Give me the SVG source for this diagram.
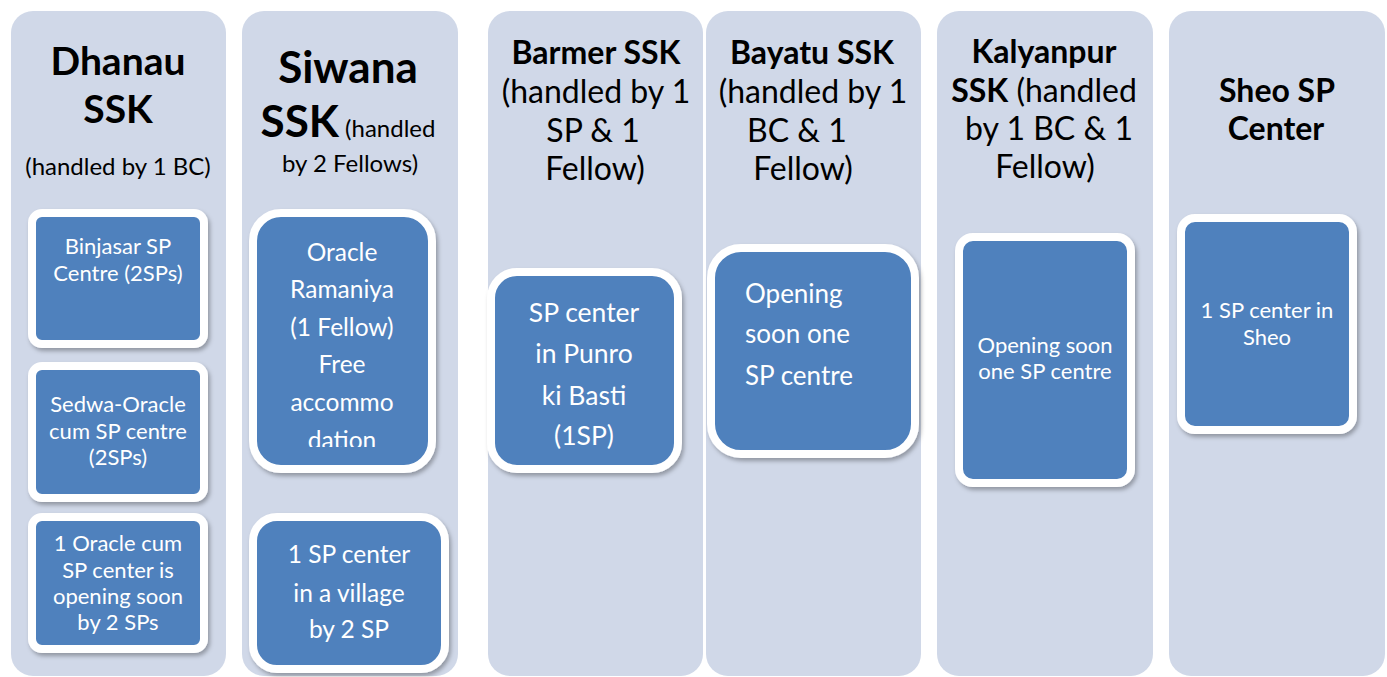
<svg xmlns="http://www.w3.org/2000/svg" width="1387" height="677" viewBox="0 0 1387 677">
<style>
.col{fill:#D0D8E8}
.box{fill:#4F81BD;stroke:#FFFFFF;stroke-width:8;filter:url(#sh)}
text{font-family:Lato,"Liberation Sans",sans-serif}
.h{fill:#000;text-anchor:middle}
.b{font-weight:bold}
.t{fill:#FFF;text-anchor:middle}
</style>
<defs>
<filter id="sh" x="-10%" y="-10%" width="125%" height="125%">
<feDropShadow dx="2" dy="3" stdDeviation="2" flood-color="#000" flood-opacity="0.3"/>
</filter>
<clipPath id="clipS1"><rect x="240" y="200" width="220" height="247"/></clipPath>
</defs>
<rect width="1387" height="677" fill="#FFF"/>

<g id="col-dhanau">
<rect class="col" x="11" y="11" width="215" height="665" rx="22"/>
<text class="h b" x="118" y="75" font-size="39">Dhanau</text>
<text class="h b" x="118" y="123" font-size="39">SSK</text>
<text class="h" x="118" y="175" font-size="24">(handled by 1 BC)</text>
</g>
<g id="box-binjasar">
<rect class="box" x="32" y="213" width="172" height="131" rx="10"/>
<text class="t" x="118" y="254" font-size="22">Binjasar SP</text>
<text class="t" x="118" y="281" font-size="22">Centre (2SPs)</text>
</g>
<g id="box-sedwa">
<rect class="box" x="32" y="366" width="172" height="132" rx="10"/>
<text class="t" x="118" y="412" font-size="22">Sedwa-Oracle</text>
<text class="t" x="118" y="439" font-size="22">cum SP centre</text>
<text class="t" x="118" y="465" font-size="22">(2SPs)</text>
</g>
<g id="box-oracle-soon">
<rect class="box" x="32" y="517" width="172" height="132" rx="10"/>
<text class="t" x="118" y="551" font-size="22">1 Oracle cum</text>
<text class="t" x="118" y="578" font-size="22">SP center is</text>
<text class="t" x="118" y="604" font-size="22">opening soon</text>
<text class="t" x="118" y="630" font-size="22">by 2 SPs</text>
</g>

<g id="col-siwana">
<rect class="col" x="242" y="11" width="216" height="665" rx="22"/>
<text class="h b" x="348" y="83" font-size="44">Siwana</text>
<text class="h" x="348" y="137"><tspan class="b" font-size="44">SSK</tspan><tspan font-size="24"> (handled</tspan></text>
<text class="h" x="350" y="172" font-size="24">by 2 Fellows)</text>
</g>
<g id="box-ramaniya">
<rect class="box" x="253" y="213" width="179" height="256" rx="28"/>
<g clip-path="url(#clipS1)">
<text class="t" x="342" y="261" font-size="24.5">Oracle</text>
<text class="t" x="342" y="298" font-size="24.5">Ramaniya</text>
<text class="t" x="342" y="336" font-size="24.5">(1 Fellow)</text>
<text class="t" x="342" y="373" font-size="24.5">Free</text>
<text class="t" x="342" y="411" font-size="24.5">accommo</text>
<text class="t" x="342" y="449" font-size="24.5">dation</text>
</g>
</g>
<g id="box-village">
<rect class="box" x="253" y="517" width="192" height="152" rx="24"/>
<text class="t" x="349" y="563" font-size="24.5">1 SP center</text>
<text class="t" x="349" y="602" font-size="24.5">in a village</text>
<text class="t" x="349" y="638" font-size="24.5">by 2 SP</text>
</g>

<g id="col-barmer">
<rect class="col" x="488" y="11" width="215" height="665" rx="22"/>
<text class="h b" x="596" y="64" font-size="32">Barmer SSK</text>
<text class="h" x="596" y="103" font-size="32">(handled by 1</text>
<text class="h" x="593" y="142" font-size="32">SP &amp; 1</text>
<text class="h" x="595" y="180" font-size="32">Fellow)</text>
</g>
<g id="box-punro">
<rect class="box" x="491" y="272" width="187" height="197" rx="26"/>
<text class="t" x="584" y="322" font-size="26.5">SP center</text>
<text class="t" x="584" y="363" font-size="26.5">in Punro</text>
<text class="t" x="584" y="405" font-size="26.5">ki Basti</text>
<text class="t" x="584" y="445" font-size="26.5">(1SP)</text>
</g>

<g id="col-bayatu">
<rect class="col" x="706" y="11" width="215" height="665" rx="22"/>
<text class="h b" x="812" y="64" font-size="32">Bayatu SSK</text>
<text class="h" x="813" y="103" font-size="32">(handled by 1</text>
<text class="h" x="797" y="142" font-size="32">BC &amp; 1</text>
<text class="h" x="803" y="180" font-size="32">Fellow)</text>
</g>
<g id="box-bayatu-soon">
<rect class="box" x="711" y="248" width="204" height="206" rx="30"/>
<text fill="#FFF" x="745" y="303" font-size="26">Opening</text>
<text fill="#FFF" x="745" y="343" font-size="26">soon one</text>
<text fill="#FFF" x="745" y="385" font-size="26">SP centre</text>
</g>

<g id="col-kalyanpur">
<rect class="col" x="937" y="11" width="216" height="665" rx="22"/>
<text class="h b" x="1044" y="63" font-size="32">Kalyanpur</text>
<text class="h" x="1044" y="102" font-size="32"><tspan class="b">SSK</tspan> (handled</text>
<text class="h" x="1049" y="140" font-size="32">by 1 BC &amp; 1</text>
<text class="h" x="1045" y="178" font-size="32">Fellow)</text>
</g>
<g id="box-kalyanpur-soon">
<rect class="box" x="959" y="237" width="172" height="246" rx="14"/>
<text class="t" x="1045" y="353" font-size="22">Opening soon</text>
<text class="t" x="1045" y="379" font-size="22">one SP centre</text>
</g>

<g id="col-sheo">
<rect class="col" x="1169" y="11" width="216" height="665" rx="22"/>
<text class="h b" x="1277" y="102" font-size="32">Sheo SP</text>
<text class="h b" x="1276" y="140" font-size="32">Center</text>
</g>
<g id="box-sheo">
<rect class="box" x="1181" y="218" width="172" height="212" rx="14"/>
<text class="t" x="1267" y="318" font-size="22">1 SP center in</text>
<text class="t" x="1267" y="345" font-size="22">Sheo</text>
</g>
</svg>
